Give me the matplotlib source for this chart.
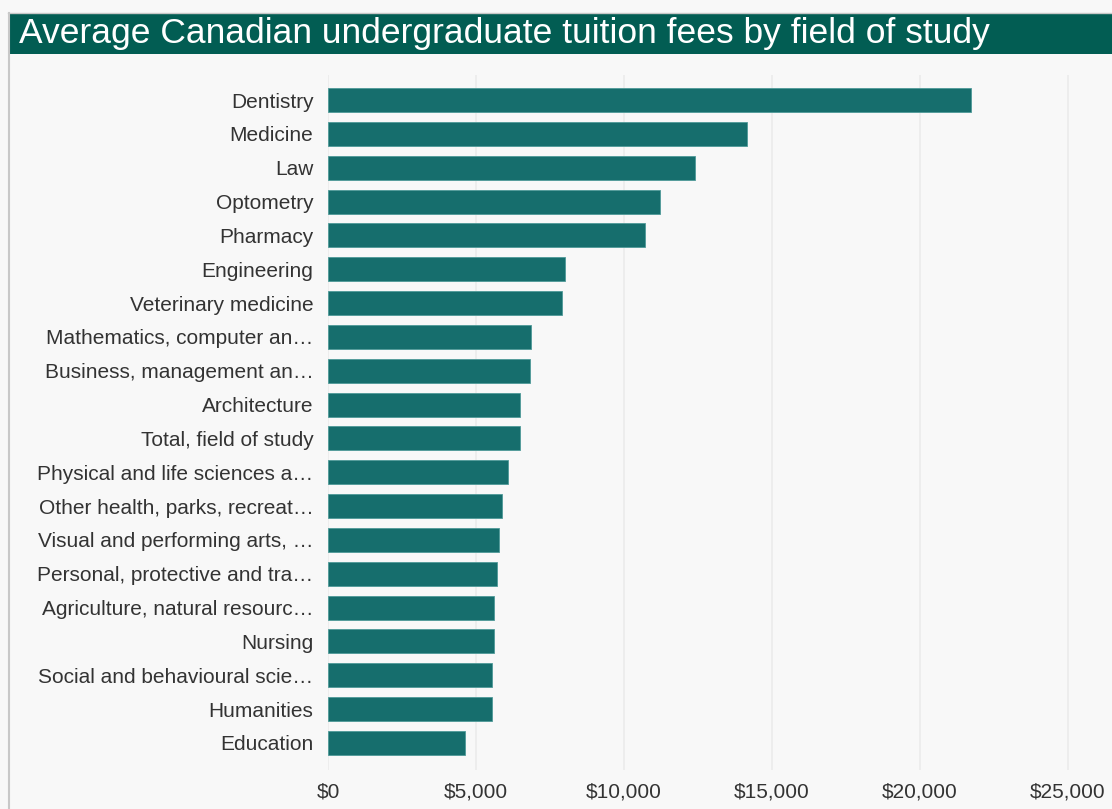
import matplotlib.pyplot as plt
from matplotlib.patches import Rectangle
from matplotlib.lines import Line2D
from matplotlib.ticker import FuncFormatter

fields = [
    "Dentistry", "Medicine", "Law", "Optometry", "Pharmacy", "Engineering",
    "Veterinary medicine", "Mathematics, computer an…", "Business, management an…",
    "Architecture", "Total, field of study", "Physical and life sciences a…",
    "Other health, parks, recreat…", "Visual and performing arts, …",
    "Personal, protective and tra…", "Agriculture, natural resourc…",
    "Nursing", "Social and behavioural scie…", "Humanities", "Education",
]
fees = [21720, 14160, 12400, 11220, 10710, 8010, 7900, 6860, 6830, 6480,
        6480, 6080, 5880, 5780, 5710, 5610, 5610, 5550, 5550, 4630]
xticks = [0, 5000, 10000, 15000, 20000, 25000]

W, H = 1112, 809
fig = plt.figure(figsize=(W / 100, H / 100), dpi=100)
fig.patch.set_facecolor('#f8f8f8')

# title bar + frame lines
fig.add_artist(Rectangle((8 / W, 1 - 54 / H), 1, 41 / H, transform=fig.transFigure,
                         facecolor='#025d53', edgecolor='none'))
fig.add_artist(Line2D([8 / W, 1], [1 - 12.5 / H] * 2, transform=fig.transFigure,
                      color='#c8c8c8', lw=1))
fig.add_artist(Line2D([8.5 / W] * 2, [0, 1 - 12.5 / H], transform=fig.transFigure,
                      color='#c8c8c8', lw=1.5))
fig.text(19 / W, 1 - 34 / H, "Average Canadian undergraduate tuition fees by field of study",
         color='white', fontsize=25.5, family='Liberation Sans',
         va='center', ha='left')

ax = fig.add_axes([328 / W, 1 - 770 / H, (1100 - 328) / W, (770 - 75) / H])
ax.set_facecolor('#f8f8f8')
y = list(range(len(fields)))
ax.barh(y, fees, height=0.71, color='#166e6d', edgecolor='#4f9a98', linewidth=0.6, zorder=3)
ax.set_ylim(19.8, -0.74)
ax.set_xlim(0, 26080)
ax.set_xticks(xticks)
ax.xaxis.set_major_formatter(FuncFormatter(lambda v, p: "${:,.0f}".format(v)))
ax.set_yticks(y)
ax.set_yticklabels(fields)
ax.grid(axis='x', color='#ebebeb', lw=1.2, zorder=0)
for s in ax.spines.values():
    s.set_visible(False)
ax.tick_params(length=0, labelsize=15, labelcolor='#333333')
ax.tick_params(axis='y', pad=10.5)
ax.tick_params(axis='x', pad=9)
for lbl in ax.get_xticklabels() + ax.get_yticklabels():
    lbl.set_family(['Liberation Sans', 'DejaVu Sans'])

fig.savefig('out.png', dpi=100, facecolor=fig.get_facecolor())
